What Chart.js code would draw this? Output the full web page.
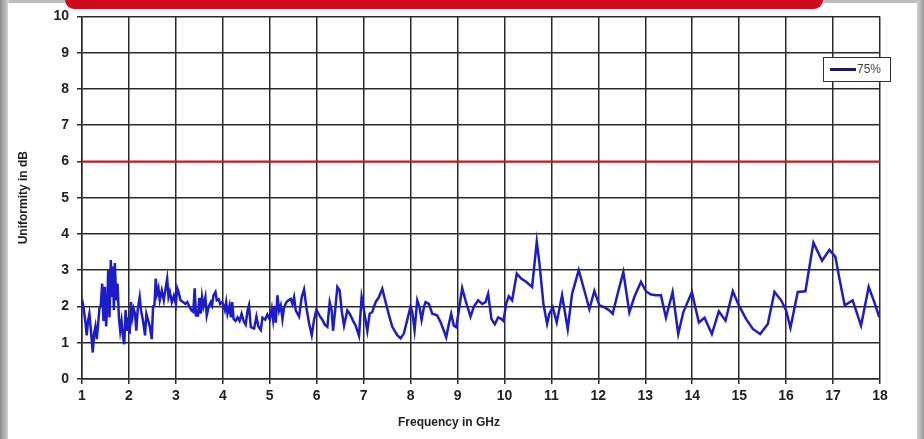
<!DOCTYPE html>
<html>
<head>
<meta charset="utf-8">
<title>Uniformity in dB</title>
<script src="https://cdn.jsdelivr.net/npm/chart.js@4.4.0/dist/chart.umd.min.js"></script>
<style>
    html, body { margin: 0; padding: 0; background: #fff; }
    #wrap { width: 924px; height: 439px; position: relative; }
</style>
</head>
<body>
<div id="wrap"><canvas id="uniformityChart"></canvas></div>
<script>
// Частота, ГГц
const freqGHz = [
    1.000, 1.029, 1.071, 1.100, 1.129, 1.157, 1.186, 1.229, 1.257, 1.286,
    1.314, 1.343, 1.371, 1.400, 1.429, 1.457, 1.486, 1.514, 1.543, 1.557,
    1.586, 1.614, 1.636, 1.657, 1.679, 1.700, 1.729, 1.757, 1.786, 1.814,
    1.843, 1.871, 1.900, 1.929, 1.957, 1.986, 2.014, 2.043, 2.071, 2.100,
    2.129, 2.157, 2.186, 2.229, 2.257, 2.300, 2.343, 2.371, 2.414, 2.443,
    2.486, 2.514, 2.543, 2.571, 2.600, 2.629, 2.657, 2.700, 2.743, 2.786,
    2.814, 2.843, 2.871, 2.914, 2.957, 3.000, 3.029, 3.057, 3.100, 3.157,
    3.200, 3.243, 3.286, 3.329, 3.371, 3.400, 3.429, 3.471, 3.500, 3.529,
    3.557, 3.586, 3.629, 3.657, 3.700, 3.743, 3.771, 3.800, 3.843, 3.871,
    3.914, 3.943, 3.986, 4.014, 4.043, 4.071, 4.100, 4.143, 4.171, 4.200,
    4.229, 4.271, 4.314, 4.357, 4.400, 4.443, 4.486, 4.529, 4.557, 4.596,
    4.667, 4.716, 4.759, 4.809, 4.844, 4.901, 4.950, 5.000, 5.043, 5.071,
    5.099, 5.128, 5.163, 5.199, 5.234, 5.270, 5.305, 5.355, 5.397, 5.447,
    5.482, 5.518, 5.553, 5.624, 5.681, 5.730, 5.780, 5.837, 5.894, 5.943,
    5.993, 6.050, 6.121, 6.177, 6.227, 6.277, 6.319, 6.348, 6.390, 6.440,
    6.489, 6.532, 6.582, 6.652, 6.702, 6.773, 6.830, 6.901, 6.957, 7.007,
    7.078, 7.128, 7.184, 7.255, 7.326, 7.397, 7.468, 7.539, 7.610, 7.716,
    7.787, 7.858, 7.929, 8.000, 8.035, 8.085, 8.142, 8.191, 8.234, 8.284,
    8.319, 8.390, 8.461, 8.518, 8.567, 8.638, 8.709, 8.759, 8.816, 8.865,
    8.922, 8.972, 9.028, 9.099, 9.170, 9.277, 9.348, 9.440, 9.525, 9.596,
    9.652, 9.723, 9.794, 9.865, 9.929, 9.979, 10.035, 10.092, 10.163, 10.262,
    10.355, 10.461, 10.589, 10.688, 10.745, 10.830, 10.908, 10.957, 11.028, 11.113,
    11.227, 11.348, 11.440, 11.582, 11.702, 11.809, 11.915, 12.021, 12.128, 12.234,
    12.305, 12.411, 12.532, 12.660, 12.766, 12.908, 13.014, 13.121, 13.227, 13.333,
    13.440, 13.582, 13.702, 13.809, 13.901, 13.993, 14.078, 14.142, 14.262, 14.418,
    14.567, 14.709, 14.865, 14.993, 15.149, 15.291, 15.447, 15.610, 15.752, 15.894,
    16.000, 16.092, 16.248, 16.411, 16.582, 16.766, 16.922, 17.050, 17.135, 17.248,
    17.418, 17.596, 17.759, 17.879, 17.986
];

// Равномерность, дБ (75%)
const uniformity75 = [
    2.20, 2.00, 1.60, 1.20, 1.60, 1.80, 1.40, 0.73, 1.25, 1.45,
    1.10, 1.50, 1.95, 2.03, 2.63, 1.60, 2.54, 1.45, 2.17, 3.00,
    1.70, 3.28, 2.26, 3.10, 1.90, 3.20, 2.17, 2.63, 1.70, 1.33,
    1.60, 1.20, 0.96, 1.90, 1.33, 1.70, 1.24, 2.12, 1.70, 1.94,
    1.80, 1.33, 1.90, 2.26, 1.90, 1.60, 1.20, 1.80, 1.60, 1.45,
    1.10, 2.00, 2.03, 2.77, 2.35, 2.50, 2.17, 2.44, 2.17, 2.54,
    2.77, 2.26, 2.40, 2.12, 2.30, 2.07, 2.50, 2.40, 2.17, 2.12,
    2.07, 2.12, 2.00, 1.90, 1.85, 2.50, 1.75, 1.75, 2.24, 1.80,
    2.26, 2.00, 2.26, 1.75, 2.00, 2.12, 2.03, 2.30, 2.40, 2.17,
    2.20, 2.07, 2.12, 2.03, 1.90, 2.12, 1.80, 2.03, 1.70, 2.12,
    1.66, 1.60, 1.70, 1.60, 1.80, 1.60, 1.50, 1.90, 2.03, 1.43,
    1.39, 1.72, 1.44, 1.35, 1.69, 1.64, 1.78, 1.64, 1.94, 1.64,
    2.02, 1.55, 2.31, 1.89, 2.03, 1.65, 1.98, 2.12, 2.17, 2.21,
    2.07, 2.26, 1.89, 1.72, 2.26, 2.47, 1.98, 1.54, 1.21, 1.63,
    1.91, 1.77, 1.63, 1.49, 1.44, 2.12, 1.89, 1.33, 1.85, 2.54,
    2.44, 1.89, 1.47, 1.89, 1.80, 1.61, 1.47, 1.19, 2.26, 1.89,
    1.33, 1.80, 1.85, 2.12, 2.26, 2.49, 2.12, 1.76, 1.44, 1.21,
    1.12, 1.26, 1.63, 2.00, 1.85, 1.35, 2.17, 1.98, 1.63, 1.98,
    2.12, 2.07, 1.80, 1.78, 1.75, 1.57, 1.33, 1.15, 1.52, 1.80,
    1.47, 1.43, 1.89, 2.51, 2.17, 1.72, 2.00, 2.17, 2.07, 2.12,
    2.35, 1.65, 1.51, 1.70, 1.66, 1.60, 2.07, 2.28, 2.17, 2.91,
    2.77, 2.68, 2.54, 3.79, 3.19, 2.07, 1.52, 1.80, 1.98, 1.56,
    2.31, 1.38, 2.35, 3.00, 2.44, 1.93, 2.43, 2.03, 1.98, 1.89,
    1.80, 2.35, 2.95, 1.84, 2.26, 2.68, 2.42, 2.33, 2.31, 2.31,
    1.69, 2.40, 1.24, 1.84, 2.12, 2.40, 1.91, 1.56, 1.69, 1.24,
    1.87, 1.61, 2.42, 2.03, 1.65, 1.38, 1.24, 1.52, 2.40, 2.17,
    1.89, 1.41, 2.40, 2.42, 3.76, 3.26, 3.56, 3.37, 2.77, 2.03,
    2.17, 1.47, 2.54, 2.12, 1.70
];

const seriesLabel = '75%';
const limitDb = 6;
const freqRange = [1, 18];
const dbRange = [0, 10];

const xTitle = 'Frequency in GHz';
const yTitle = 'Uniformity in dB';

// Рамка страницы и красная плашка сверху
const framePlugin = {
    id: 'frame',
    beforeDraw(chart) {
        const { ctx, width, height } = chart;
        ctx.save();
        ctx.fillStyle = '#bdbdbd';
        ctx.fillRect(0, 0, width, height);
        const g = ctx.createLinearGradient(0, 0, 9, 0);
        g.addColorStop(0, '#8c8c8c');
        g.addColorStop(1, '#d9d9d9');
        ctx.fillStyle = g;
        ctx.fillRect(0, 0, 9, height);
        const gr = ctx.createLinearGradient(917, 0, width, 0);
        gr.addColorStop(0, '#d0d0d0');
        gr.addColorStop(1, '#9a9a9a');
        ctx.fillStyle = gr;
        ctx.fillRect(917, 0, width - 917, height);
        ctx.fillStyle = '#ffffff';
        ctx.fillRect(8, 3, 909, height - 3);
        // красная плашка
        ctx.fillStyle = '#cf0a1f';
        ctx.beginPath();
        ctx.roundRect(65, -12, 758, 21, 9);
        ctx.fill();
        ctx.restore();
    }
};

// Подпись оси X и легенда
const extrasPlugin = {
    id: 'extras',
    afterDraw(chart) {
        const { ctx } = chart;
        ctx.save();
        ctx.font = 'bold 12px "Liberation Sans", Arial, sans-serif';
        ctx.fillStyle = '#222';
        ctx.textAlign = 'center';
        ctx.textBaseline = 'middle';
        ctx.fillText(xTitle, 449, 423);

        const ds = chart.data.datasets[0];
        ctx.fillStyle = '#ffffff';
        ctx.fillRect(823, 57, 68, 24);
        ctx.strokeStyle = '#333';
        ctx.lineWidth = 1;
        ctx.strokeRect(823.5, 57.5, 67, 24);
        ctx.strokeStyle = '#1a1a6e';
        ctx.lineWidth = 3;
        ctx.beginPath();
        ctx.moveTo(830, 69.5);
        ctx.lineTo(856, 69.5);
        ctx.stroke();
        ctx.fillStyle = '#444';
        ctx.font = '12px "Liberation Sans", Arial, sans-serif';
        ctx.textAlign = 'left';
        ctx.fillText(ds.label, 857, 70);
        ctx.restore();
    }
};

document.addEventListener('DOMContentLoaded', function() {
    const ctx = document.getElementById('uniformityChart').getContext('2d');

    const tickFont = { family: '"Liberation Sans", Arial, sans-serif', size: 14, weight: 'bold' };
    const gridStyle = { color: '#2a2a2a', lineWidth: 1.5, tickLength: 5, drawTicks: true };

    new Chart(ctx, {
        type: 'line',
        data: {
            datasets: [{
                label: seriesLabel,
                data: freqGHz.map((f, i) => ({ x: f, y: uniformity75[i] })),
                borderColor: '#1c1cc8',
                borderWidth: 2.5,
                pointRadius: 0,
                tension: 0,
                fill: false
            }, {
                label: 'limit',
                data: freqRange.map(f => ({ x: f, y: limitDb })),
                borderColor: '#e0141c',
                borderWidth: 2,
                pointRadius: 0,
                fill: false
            }]
        },
        options: {
            responsive: true,
            maintainAspectRatio: false,
            animation: false,
            layout: { padding: { left: 0, top: 15, right: 44, bottom: 0 } },
            plugins: {
                legend: { display: false },
                tooltip: { enabled: false }
            },
            scales: {
                x: {
                    type: 'linear',
                    min: freqRange[0],
                    max: freqRange[1],
                    ticks: { stepSize: 1, color: '#222', font: tickFont, padding: 4, maxRotation: 0 },
                    grid: gridStyle,
                    border: { color: '#2a2a2a', width: 1.5 },
                    afterFit: scale => { scale.height = 60; }
                },
                y: {
                    min: dbRange[0],
                    max: dbRange[1],
                    ticks: { stepSize: 1, color: '#222', font: tickFont, padding: 8 },
                    grid: gridStyle,
                    border: { color: '#2a2a2a', width: 1.5 },
                    title: {
                        display: true,
                        text: yTitle,
                        color: '#222',
                        font: { family: '"Liberation Sans", Arial, sans-serif', size: 12, weight: 'bold' },
                        padding: { top: 16, bottom: 0 }
                    },
                    afterFit: scale => { scale.width = 82; }
                }
            }
        },
        plugins: [framePlugin, extrasPlugin]
    });
});
</script>
</body>
</html>
